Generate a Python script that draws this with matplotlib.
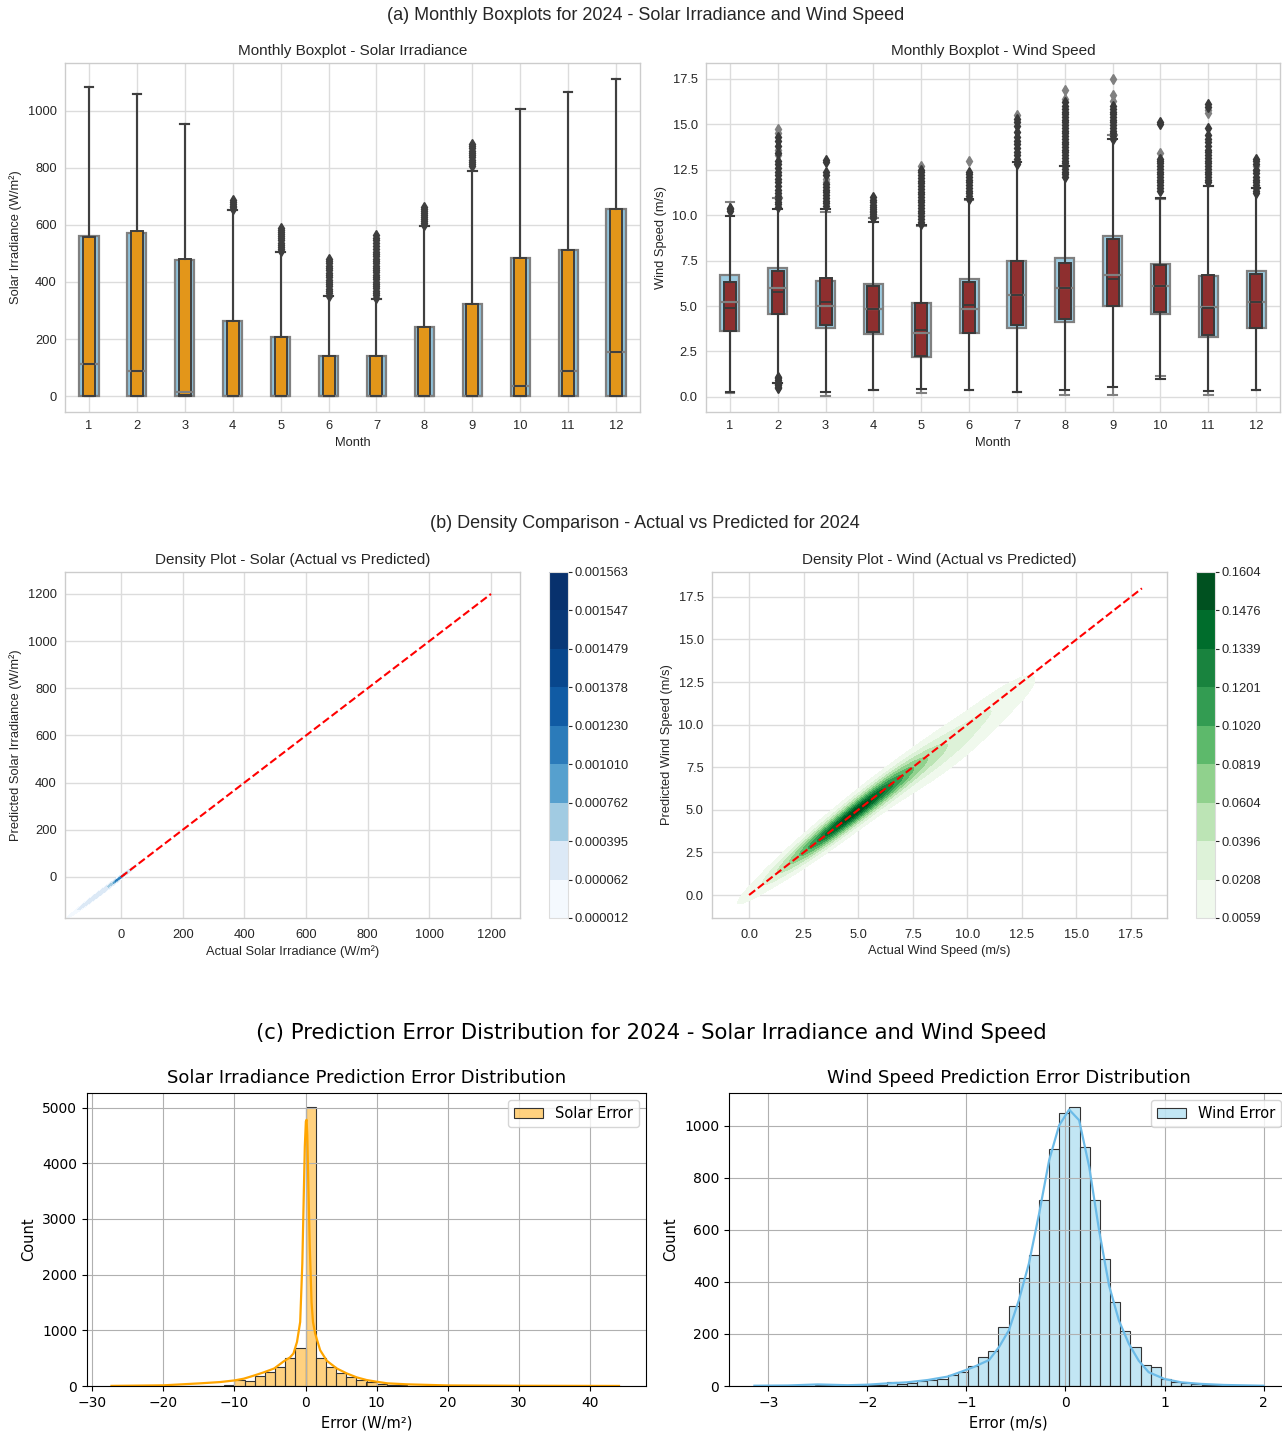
import numpy as np
import matplotlib
matplotlib.use('Agg')
import matplotlib.pyplot as plt
from matplotlib.ticker import FormatStrFormatter, MultipleLocator

plt.rcParams['font.family'] = 'DejaVu Sans'
SNS = 'Liberation Sans'
INK = '#262626'
GRID = '#dcdcdc'

months = ['1', '2', '3', '4', '5', '6', '7', '8', '9', '10', '11', '12']

# ---- (a) monthly box statistics ----
# solar, W/m2: actual (wide blue) and predicted (narrow orange)
solar_q1 = [0, 0, 0, 0, 0, 0, 0, 0, 0, 0, 0, 0]
solar_act_med = [111, 88, 15, 0, 0, 0, 0, 0, 0, 37, 88, 153]
solar_act_q3 = [560, 573, 478, 264, 206, 142, 141, 241, 324, 482, 510, 655]
solar_pred_med = [111, 88, 5, 0, 0, 0, 0, 0, 0, 37, 88, 153]
solar_pred_q3 = [558, 577, 481, 264, 206, 142, 141, 241, 324, 482, 510, 655]
solar_whislo = [0, 0, 0, 0, 0, 0, 0, 0, 0, 0, 0, 0]
solar_whishi = [1083, 1057, 952, 651, 505, 349, 341, 595, 790, 1006, 1065, 1111]
solar_fliers = [
    [], [], [],
    [655, 661, 667, 673, 679, 686],
    [508, 515, 522, 530, 537, 545, 552, 560, 567, 575, 582, 590],
    [352, 360, 368, 376, 384, 392, 400, 408, 416, 424, 432, 440, 448, 456, 465, 472, 480],
    [345, 353, 361, 369, 377, 385, 393, 401, 409, 417, 425, 433, 441, 449, 457,
     465, 473, 481, 489, 497, 505, 515, 525, 535, 545, 555, 565],
    [600, 607, 614, 621, 628, 635, 642, 649, 656, 663],
    [805, 812, 820, 828, 836, 845, 852, 860, 868, 875, 882],
    [], [], [],
]

# wind, m/s
wind_act_q1 = [3.64, 4.56, 3.77, 3.46, 2.20, 3.51, 3.77, 4.14, 5.02, 4.58, 3.29, 3.77]
wind_act_med = [5.24, 5.97, 5.02, 4.85, 3.49, 4.85, 5.59, 5.97, 6.73, 6.12, 4.96, 5.24]
wind_act_q3 = [6.73, 7.11, 6.40, 6.19, 5.15, 6.47, 7.50, 7.63, 8.86, 7.30, 6.65, 6.95]
wind_act_lo = [0.22, 0.79, 0.04, 0.40, 0.22, 0.40, 0.29, 0.11, 0.11, 1.16, 0.09, 0.37]
wind_act_hi = [10.70, 10.94, 10.20, 9.83, 9.41, 10.85, 12.90, 12.68, 14.39, 10.88, 11.62, 11.49]
wind_pred_q1 = [3.64, 4.56, 3.95, 3.58, 2.24, 3.51, 3.95, 4.26, 5.00, 4.69, 3.40, 3.77]
wind_pred_med = [4.87, 5.75, 5.20, 4.85, 3.68, 5.06, 5.60, 5.97, 6.47, 6.10, 4.90, 5.24]
wind_pred_q3 = [6.30, 6.95, 6.56, 6.10, 5.15, 6.34, 7.45, 7.35, 8.68, 7.26, 6.71, 6.76]
wind_pred_lo = [0.25, 0.79, 0.28, 0.40, 0.46, 0.40, 0.29, 0.40, 0.55, 0.96, 0.33, 0.37]
wind_pred_hi = [9.96, 10.33, 10.33, 9.60, 9.45, 10.88, 12.90, 12.68, 14.20, 10.97, 11.62, 11.49]
wind_pred_fliers = [
    [10.25, 10.32, 10.4],
    [0.48, 0.56, 0.64, 0.72, 0.82, 0.92, 1.02, 1.1, 10.45, 10.6, 10.75, 10.9, 11.05, 11.2,
     11.4, 11.6, 11.8, 12.0, 12.2, 12.4, 12.6, 12.8, 13.0, 13.4, 13.8, 14.1, 14.3],
    [10.5, 10.65, 10.8, 10.95, 11.1, 11.25, 11.4, 11.55, 11.7, 12.2, 12.35, 12.95, 13.05],
    [9.85, 9.95, 10.05, 10.15, 10.25, 10.35, 10.45, 10.55, 10.7, 10.85, 11.0],
    [9.5, 9.65, 9.8, 9.95, 10.1, 10.25, 10.4, 10.55, 10.7, 10.85, 11.0, 11.15, 11.3,
     11.45, 11.6, 11.75, 11.9, 12.05, 12.2, 12.35, 12.5],
    [10.9, 11.05, 11.2, 11.35, 11.5, 11.65, 11.8, 11.95, 12.1, 12.25, 12.4],
    [12.8, 12.95, 13.1, 13.3, 13.5, 13.7, 13.9, 14.1, 14.3, 14.6, 14.9, 15.1, 15.3],
    [12.1, 12.25, 12.4, 12.55, 12.7, 12.85, 13.0, 13.15, 13.3, 13.45, 13.6, 13.75, 13.9,
     14.05, 14.2, 14.35, 14.5, 14.65, 14.8, 14.95, 15.1, 15.25, 15.4, 15.55, 15.7,
     15.85, 16.0, 16.2],
    [14.2, 14.35, 14.5, 14.65, 14.8, 14.95, 15.1, 15.25, 15.4, 15.55, 15.7, 15.85, 16.0],
    [11.35, 11.5, 11.65, 11.8, 11.95, 12.1, 12.25, 12.4, 12.55, 12.7, 12.85, 13.0, 13.1,
     15.0, 15.1],
    [11.8, 11.95, 12.1, 12.25, 12.4, 12.55, 12.7, 12.85, 13.0, 13.15, 13.3, 13.45, 13.6,
     13.8, 14.0, 14.2, 14.4, 14.8, 15.95, 16.1],
    [11.2, 11.35, 11.5, 11.65, 11.8, 11.95, 12.1, 12.3, 12.5, 12.8, 13.0, 13.1],
]
wind_act_fliers = [[], [13.3, 13.6, 14.5, 14.75], [11.8, 12.0], [], [12.7], [13.0],
                   [15.5], [16.4, 16.9], [16.3, 16.6, 17.5], [13.4], [15.6, 15.8], [12.5, 12.7]]

# ---- (b) KDE surfaces: components along the 1:1 line ----
solar_levels = [0.000012, 0.000062, 0.000395, 0.000762, 0.001010, 0.001230,
                0.001378, 0.001479, 0.001547, 0.001563]
solar_kde_centre = [-5, -60]
solar_kde_along = [18, 45]
solar_kde_across = [3, 5]
solar_kde_offset = [0, 0]
solar_kde_peak = [0.00105, 0.00030]
solar_ref = [0, 1200]

wind_levels = [0.0059, 0.0208, 0.0396, 0.0604, 0.0819, 0.1020, 0.1201, 0.1339, 0.1476, 0.1604]
wind_kde_centre = [2.0, 3.8, 6.0, 8.6, 11.5]
wind_kde_along = [1.5, 1.4, 1.4, 1.6, 1.1]
wind_kde_across = [0.35, 0.45, 0.5, 0.75, 0.6]
wind_kde_offset = [0.0, 0.0, 0.0, -0.4, -0.2]
wind_kde_peak = [0.02, 0.103, 0.103, 0.03, 0.012]
wind_ref = [0, 18]

# ---- (c) error histograms ----
solar_bin_start, solar_bin_width = -27.17, 1.43
solar_counts = [1, 0, 1, 0, 1, 1, 2, 2, 3, 4, 8, 22, 103, 91, 176, 260, 333, 497, 675,
                5010, 509, 333, 242, 164, 103, 73, 40, 18, 9, 5, 3, 2, 2, 1, 1, 1, 0, 1,
                0, 1, 0, 0, 1, 0, 0, 1, 0, 0, 0, 1]
solar_kde_x = [-27.3, -20, -14.8, -12, -10, -8.7, -7.3, -5.9, -4.4, -3.1, -2.2, -1.7, -1.2,
               -0.75, -0.45, -0.25, -0.1, 0.05, 0.15, 0.25, 0.4, 0.6, 0.85, 1.05, 1.36,
               2.06, 3.0, 4.4, 5.8, 7.2, 8.6, 10, 11.5, 14.3, 20, 30, 44.1]
solar_kde_y = [2, 12, 48, 71, 100, 131, 185, 244, 315, 440, 512, 583, 790, 1150, 2200,
               3400, 4300, 4750, 4780, 4500, 3600, 2500, 1500, 1150, 940, 643, 452, 315,
               226, 155, 107, 77, 48, 30, 10, 4, 1]

wind_bin_start, wind_bin_width = -3.14, 0.1026
wind_counts = [1, 0, 0, 1, 0, 1, 3, 2, 1, 1, 2, 2, 3, 14, 8, 10, 18, 23, 26, 42, 53, 76,
               111, 135, 227, 309, 414, 505, 715, 912, 1050, 1072, 918, 713, 488, 324,
               213, 151, 81, 72, 27, 17, 10, 8, 4, 3, 2, 1, 1, 1]
wind_kde_x = [-3.14, -2.8, -2.5, -2.2, -2.0, -1.8, -1.6, -1.39, -1.19, -1.0, -0.92, -0.77,
              -0.67, -0.57, -0.47, -0.37, -0.266, -0.165, -0.064, 0.037, 0.138, 0.24,
              0.34, 0.44, 0.54, 0.64, 0.74, 0.84, 1.0, 1.17, 1.37, 1.6, 2.0]
wind_kde_y = [1, 2, 6, 3, 5, 10, 14, 23, 36, 62, 74, 100, 150, 215, 330, 469, 662, 867,
              1001, 1062, 1021, 841, 597, 386, 251, 162, 97, 53, 27, 14, 8, 4, 1]

W, H = 1282, 1431


def frac(x0, y0, x1, y1):
    return [x0 / W, 1 - y1 / H, (x1 - x0) / W, (y1 - y0) / H]


def sns_style(ax, xgrid=True):
    ax.set_facecolor('white')
    for sp in ax.spines.values():
        sp.set_color('#cccccc')
        sp.set_linewidth(1.0)
    ax.set_axisbelow(True)
    ax.yaxis.grid(True, color=GRID, lw=1.0)
    ax.xaxis.grid(xgrid, color=GRID, lw=1.0)
    ax.tick_params(length=0, labelsize=9.3, labelcolor=INK, pad=6, labelfontfamily=SNS)


def box_stats(q1, med, q3, lo, hi, fl):
    return [dict(q1=a, med=b, q3=c, whislo=d, whishi=e, fliers=f)
            for a, b, c, d, e, f in zip(q1, med, q3, lo, hi, fl)]


def draw_boxes(ax, stats, width, face, line, lw, z, flier_col):
    art = ax.bxp(stats, positions=np.arange(len(stats)), widths=width,
                 patch_artist=True, manage_ticks=False, capwidths=0.18,
                 boxprops=dict(facecolor=face, edgecolor=line, linewidth=lw),
                 whiskerprops=dict(color=line, linewidth=1.5),
                 capprops=dict(color=line, linewidth=1.5),
                 medianprops=dict(color=line, linewidth=lw),
                 flierprops=dict(marker='d', markerfacecolor=flier_col,
                                 markeredgecolor=flier_col, markersize=5, linestyle='none'))
    for group in art.values():
        for a in group:
            a.set_zorder(z)
    for m in art['medians']:
        m.set_zorder(z + 3)
    return art


def kde_field(X, Y, centre, along, across, offset, peak):
    u = (X + Y) / 2
    v = Y - X
    out = np.zeros_like(X)
    for c, su, sv, o, a in zip(centre, along, across, offset, peak):
        out += a * np.exp(-0.5 * ((u - c) / su) ** 2 - 0.5 * ((v - o) / sv) ** 2)
    return out


fig = plt.figure(figsize=(W / 100, H / 100), dpi=100)

# ---------------- (a) ----------------
fig.text(646 / W, 1 - 16 / H, '(a) Monthly Boxplots for 2024 - Solar Irradiance and Wind Speed',
         ha='center', va='center', fontsize=13, color=INK, family=SNS)

ax = fig.add_axes(frac(65, 63, 640, 412))
sns_style(ax, xgrid=False)
draw_boxes(ax, box_stats(solar_q1, solar_act_med, solar_act_q3, solar_whislo, solar_whishi,
                         [[] for _ in months]),
           0.4, '#8fc1d9', '#808080', 1.6, 2, '#808080')
draw_boxes(ax, box_stats(solar_q1, solar_pred_med, solar_pred_q3, solar_whislo,
                         solar_whishi, solar_fliers),
           0.25, '#e3961a', '#3f3f3f', 1.4, 3, '#3f3f3f')
ax.set_xlim(-0.5, 11.5)
ax.set_xticks(np.arange(12))
ax.set_xticklabels(months)
ax.set_title('Monthly Boxplot - Solar Irradiance', fontsize=11, color=INK, family=SNS, pad=6)
ax.set_xlabel('Month', fontsize=9.3, color=INK, family=SNS, labelpad=3)
ax.set_ylabel('Solar Irradiance (W/m²)', fontsize=9.3, color=INK, family=SNS)

ax = fig.add_axes(frac(706, 63, 1280, 412))
sns_style(ax, xgrid=False)
draw_boxes(ax, box_stats(wind_act_q1, wind_act_med, wind_act_q3, wind_act_lo,
                         wind_act_hi, wind_act_fliers),
           0.4, '#9ccbe0', '#808080', 1.6, 2, '#808080')
draw_boxes(ax, box_stats(wind_pred_q1, wind_pred_med, wind_pred_q3, wind_pred_lo,
                         wind_pred_hi, wind_pred_fliers),
           0.25, '#8e2f2f', '#3a3a3a', 1.4, 3, '#3a3a3a')
ax.set_xlim(-0.5, 11.5)
ax.set_xticks(np.arange(12))
ax.set_xticklabels(months)
ax.yaxis.set_major_locator(MultipleLocator(2.5))
ax.yaxis.set_major_formatter(FormatStrFormatter('%.1f'))
ax.set_title('Monthly Boxplot - Wind Speed', fontsize=11, color=INK, family=SNS, pad=6)
ax.set_xlabel('Month', fontsize=9.3, color=INK, family=SNS, labelpad=3)
ax.set_ylabel('Wind Speed (m/s)', fontsize=9.3, color=INK, family=SNS)

# ---------------- (b) ----------------
fig.text(645 / W, 1 - 524 / H, '(b) Density Comparison - Actual vs Predicted for 2024',
         ha='center', va='center', fontsize=13, color=INK, family=SNS)


def density_panel(box, cbox, X, Y, field, levels, cmap, ref, lims, step, fmt, title,
                  xlabel, ylabel, tickfmt=None):
    ax = fig.add_axes(frac(*box))
    sns_style(ax)
    ax.tick_params(axis='x', pad=8)
    cs = ax.contourf(X, Y, field, levels=levels, cmap=cmap, zorder=2)
    ax.plot(ref, ref, 'r--', lw=1.5, zorder=3)
    ax.set_xlim(lims[0], lims[1])
    ax.set_ylim(lims[2], lims[3])
    ax.xaxis.set_major_locator(MultipleLocator(step))
    ax.yaxis.set_major_locator(MultipleLocator(step))
    if tickfmt:
        ax.xaxis.set_major_formatter(FormatStrFormatter(tickfmt))
        ax.yaxis.set_major_formatter(FormatStrFormatter(tickfmt))
    ax.set_title(title, fontsize=11, color=INK, family=SNS, pad=6)
    ax.set_xlabel(xlabel, fontsize=9.3, color=INK, family=SNS, labelpad=3)
    ax.set_ylabel(ylabel, fontsize=9.3, color=INK, family=SNS)
    cax = fig.add_axes(frac(*cbox))
    cb = fig.colorbar(cs, cax=cax)
    cb.set_ticks(levels)
    cax.yaxis.set_major_formatter(FormatStrFormatter(fmt))
    cax.tick_params(labelsize=9.3, labelcolor=INK, length=3, width=0.8, color=INK,
                    pad=2, labelfontfamily=SNS)
    cb.outline.set_edgecolor('#dddddd')
    cb.outline.set_linewidth(0.8)


g = np.linspace(-200, 200, 801)
SX, SY = np.meshgrid(g, g)
solar_field = kde_field(SX, SY, solar_kde_centre, solar_kde_along, solar_kde_across,
                        solar_kde_offset, solar_kde_peak)
density_panel((65, 572, 520, 918), (549, 572, 568, 918), SX, SY, solar_field, solar_levels,
              'Blues', solar_ref, (-182, 1294, -174, 1293), 200, '%.6f',
              'Density Plot - Solar (Actual vs Predicted)',
              'Actual Solar Irradiance (W/m²)', 'Predicted Solar Irradiance (W/m²)')

g = np.linspace(-2, 19.5, 700)
WX, WY = np.meshgrid(g, g)
wind_field = kde_field(WX, WY, wind_kde_centre, wind_kde_along, wind_kde_across,
                       wind_kde_offset, wind_kde_peak)
density_panel((712, 572, 1167, 918), (1196, 572, 1215, 918), WX, WY, wind_field, wind_levels,
              'Greens', wind_ref, (-1.7, 19.15, -1.35, 18.96), 2.5, '%.4f',
              'Density Plot - Wind (Actual vs Predicted)',
              'Actual Wind Speed (m/s)', 'Predicted Wind Speed (m/s)', tickfmt='%.1f')

# ---------------- (c) ----------------
fig.text(651 / W, 1 - 1033 / H,
         '(c) Prediction Error Distribution for 2024 - Solar Irradiance and Wind Speed',
         ha='center', va='center', fontsize=15.2)


def error_panel(box, start, width, counts, kde_x, kde_y, face, line, label, title, xlabel):
    ax = fig.add_axes(frac(*box))
    edges = start + width * np.arange(len(counts) + 1)
    ax.hist(edges[:-1], bins=edges, weights=counts, facecolor=face, edgecolor='#333333',
            linewidth=0.8, label=label)
    ax.plot(kde_x, kde_y, color=line, lw=1.6)
    span = edges[-1] - edges[0]
    ax.set_xlim(edges[0] - 0.05 * span, edges[-1] + 0.05 * span)
    ax.set_ylim(0, max(counts) * 1.05)
    ax.grid(True, color='#b0b0b0', lw=0.8)
    ax.tick_params(labelsize=10)
    ax.set_title(title, fontsize=13, pad=7)
    ax.set_xlabel(xlabel, fontsize=10.5)
    ax.set_ylabel('Count', fontsize=10.5)
    ax.legend(loc='upper right', fontsize=10.5)
    return ax


error_panel((87, 1093, 646, 1386), solar_bin_start, solar_bin_width, solar_counts,
            solar_kde_x, solar_kde_y, (1.0, 0.647, 0.0, 0.5), 'orange', 'Solar Error',
            'Solar Irradiance Prediction Error Distribution', 'Error (W/m²)')
error_panel((729, 1093, 1288, 1386), wind_bin_start, wind_bin_width, wind_counts,
            wind_kde_x, wind_kde_y, (0.529, 0.808, 0.922, 0.5), '#6cbbe8', 'Wind Error',
            'Wind Speed Prediction Error Distribution', 'Error (m/s)')

fig.savefig('out.png', dpi=100)
